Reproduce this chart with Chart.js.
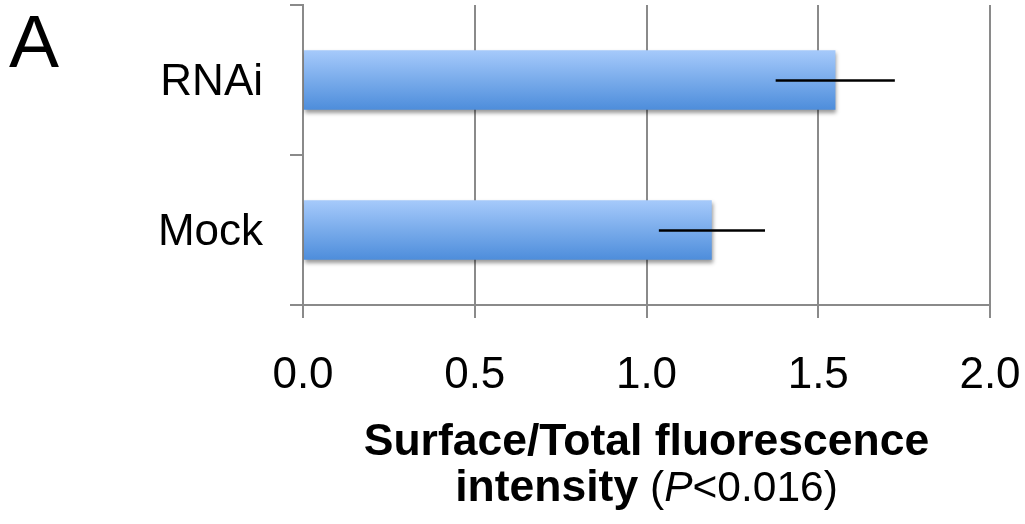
<!DOCTYPE html>
<html>
<head>
<meta charset="utf-8">
<script src="https://cdn.jsdelivr.net/npm/chart.js@4/dist/chart.umd.min.js"></script>
<style>
  html, body { margin: 0; padding: 0; background: #ffffff; }
  #wrap { width: 1025px; height: 524px; position: relative; }
</style>
</head>
<body>
<div id="wrap"><canvas id="c" width="1025" height="524"></canvas></div>
<script>
// ---- data ----
const categories = ["RNAi", "Mock"];
const meanValues = [1.55, 1.19];
const errLow = [1.376, 1.036];
const errHigh = [1.723, 1.345];
const xTickValues = [0.0, 0.5, 1.0, 1.5, 2.0];
const panelLabel = "A";
const axisTitleLine1 = "Surface/Total fluorescence";
const axisTitleLine2 = ["intensity", " (", "P", "<0.016)"];

const FONT = "'Liberation Sans', Arial, Helvetica, sans-serif";
const GRID = "#8a8a8a";

function barGradient(context) {
  const chart = context.chart;
  const yScale = chart.scales && chart.scales.y;
  if (!chart.chartArea || !yScale || context.dataIndex === undefined) return "#7aaaea";
  const cy = yScale.getPixelForValue(context.dataIndex);
  const half = 30;
  const g = chart.ctx.createLinearGradient(0, cy - half, 0, cy + half);
  g.addColorStop(0, "#a6cafb");
  g.addColorStop(1, "#4d8ddb");
  return g;
}

const shadowPlugin = {
  id: "barShadow",
  beforeDatasetDraw(chart) {
    const ctx = chart.ctx;
    ctx.save();
    ctx.shadowColor = "rgba(0,0,0,0.4)";
    ctx.shadowBlur = 4;
    ctx.shadowOffsetX = 1;
    ctx.shadowOffsetY = 3;
  },
  afterDatasetDraw(chart) {
    chart.ctx.restore();
  }
};

const errorBarPlugin = {
  id: "errorBars",
  afterDatasetsDraw(chart) {
    const ctx = chart.ctx;
    const xs = chart.scales.x, ys = chart.scales.y;
    ctx.save();
    ctx.strokeStyle = "#000000";
    ctx.lineWidth = 2.5;
    for (let i = 0; i < categories.length; i++) {
      const y = ys.getPixelForValue(i) + 0.5;
      ctx.beginPath();
      ctx.moveTo(xs.getPixelForValue(errLow[i]), y);
      ctx.lineTo(xs.getPixelForValue(errHigh[i]), y);
      ctx.stroke();
    }
    ctx.restore();
  }
};

const textPlugin = {
  id: "texts",
  afterDraw(chart) {
    const ctx = chart.ctx;
    const area = chart.chartArea;
    ctx.save();
    ctx.fillStyle = "#000000";
    ctx.textBaseline = "alphabetic";
    // panel letter
    ctx.textAlign = "left";
    ctx.font = "75px " + FONT;
    ctx.fillText(panelLabel, 9, 67);
    // axis title line 1
    const cx = (area.left + area.right) / 2;
    ctx.textAlign = "center";
    ctx.font = "bold 44.5px " + FONT;
    ctx.fillText(axisTitleLine1, cx, 455);
    // axis title line 2 (mixed styles)
    const fonts = ["bold 44.5px " + FONT, "42.5px " + FONT, "italic 42.5px " + FONT, "42.5px " + FONT];
    let total = 0;
    const widths = axisTitleLine2.map((s, i) => { ctx.font = fonts[i]; const w = ctx.measureText(s).width; total += w; return w; });
    let x = cx - total / 2;
    ctx.textAlign = "left";
    axisTitleLine2.forEach((s, i) => {
      ctx.font = fonts[i];
      ctx.fillText(s, x, 501);
      x += widths[i];
    });
    ctx.restore();
  }
};

new Chart(document.getElementById("c"), {
  type: "bar",
  data: {
    labels: categories,
    datasets: [{
      data: meanValues,
      backgroundColor: barGradient,
      borderWidth: 0,
      barPercentage: 0.397,
      categoryPercentage: 1.0
    }]
  },
  options: {
    indexAxis: "y",
    responsive: false,
    animation: false,
    devicePixelRatio: 1,
    layout: { padding: { top: 5, right: 35, left: 0, bottom: 0 } },
    plugins: { legend: { display: false }, tooltip: { enabled: false }, title: { display: false } },
    scales: {
      x: {
        type: "linear",
        min: 0, max: 2,
        afterBuildTicks(scale) { scale.ticks = xTickValues.map(v => ({ value: v })); },
        afterFit(scale) {
          scale.height = 219;
          scale.paddingLeft = 0; scale.paddingRight = 0;
          scale.paddingTop = 0; scale.paddingBottom = 0;
        },
        ticks: {
          color: "#000000",
          font: { family: FONT, size: 44 },
          padding: 31,
          callback: v => Number(v).toFixed(1)
        },
        grid: { color: GRID, lineWidth: 2, tickLength: 13, drawOnChartArea: true, drawTicks: true },
        border: { color: GRID, width: 2 }
      },
      y: {
        type: "category",
        afterFit(scale) {
          scale.width = 303;
          scale.paddingLeft = 0; scale.paddingRight = 0;
          scale.paddingTop = 0; scale.paddingBottom = 0;
        },
        ticks: {
          color: "#000000",
          font: { family: FONT, size: 44 },
          padding: 27,
          labelOffset: 3
        },
        grid: { color: GRID, lineWidth: 2, tickLength: 13, drawOnChartArea: false, drawTicks: true, offset: true },
        border: { color: GRID, width: 2 }
      }
    }
  },
  plugins: [shadowPlugin, errorBarPlugin, textPlugin]
});
</script>
</body>
</html>
